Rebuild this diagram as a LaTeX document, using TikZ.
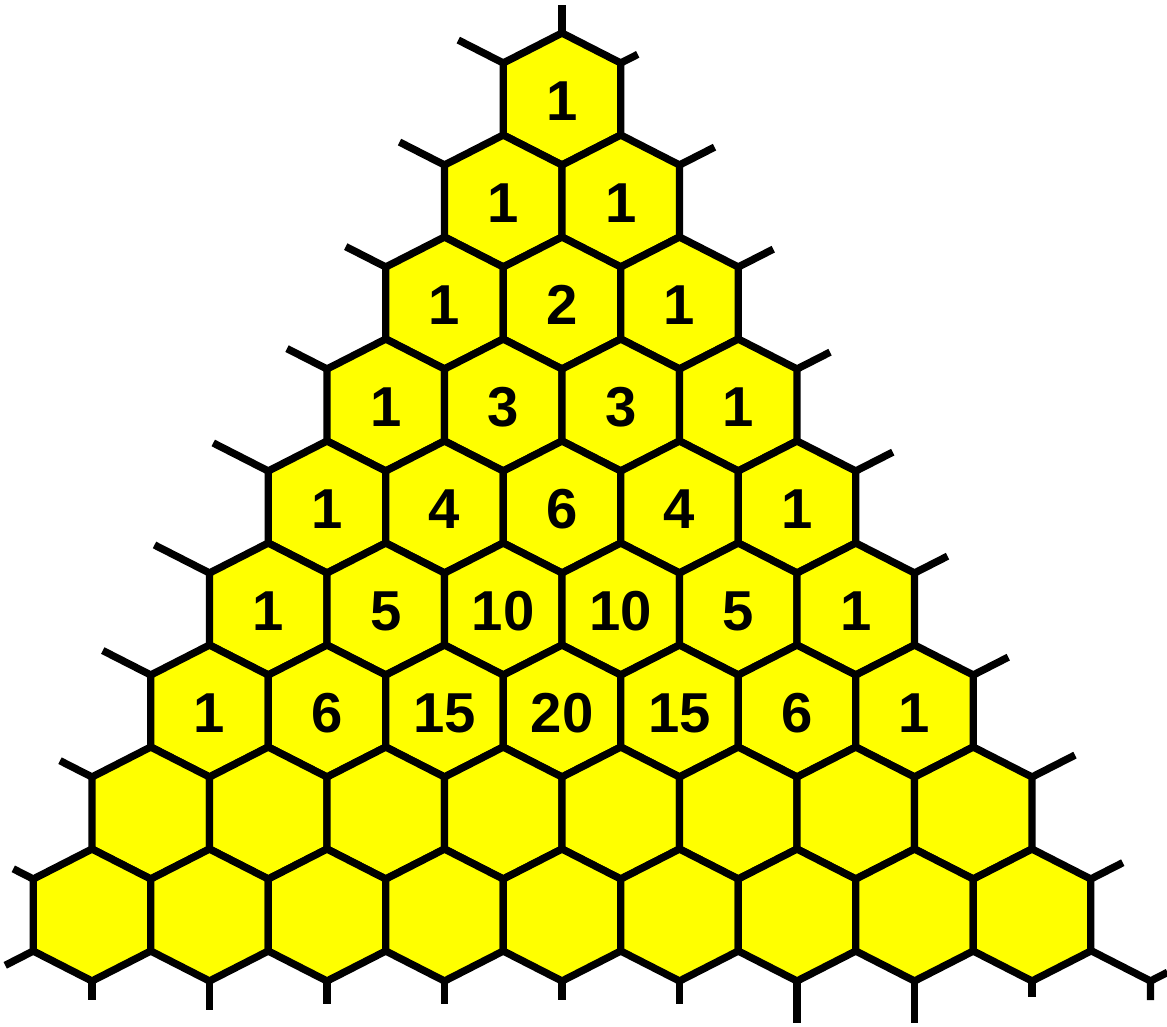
\documentclass[tikz,border=0pt]{standalone}
\usepackage{fontspec}
\setmainfont{Liberation Sans}
\definecolor{hexyellow}{RGB}{255,255,0}
\usetikzlibrary{calc}

% hexagon cell, centre given in pixel units
\newcommand{\hexcell}[2]{%
  \draw[cell] (#1,#2-66) -- (#1+58.75,#2-36) -- (#1+58.75,#2+36) -- (#1,#2+66)
    -- (#1-58.75,#2+36) -- (#1-58.75,#2-36) -- cycle;}

\begin{document}
\begin{tikzpicture}[x=0.01cm, y=-0.01cm,
    cell/.style={draw=black, fill=hexyellow, line width=2.1pt, line join=miter},
    stub/.style={draw=black, line width=2.1pt},
    num/.style={font=\fontsize{16}{16}\selectfont\bfseries, inner sep=0pt}]
  \useasboundingbox (0,0) rectangle (1167,1026);

  % honeycomb, 9 rows
  \foreach \r in {0,...,8} {
    \foreach \k in {0,...,\r} {
      \pgfmathsetmacro\cx{562+(\k-\r/2)*117.5}
      \pgfmathsetmacro\cy{99+102*\r}
      \hexcell{\cx}{\cy}
    }
  }

  % binomial numbers, rows 0..6
  \foreach \r in {0,...,6} {
    \foreach \k in {0,...,\r} {
      \pgfmathsetmacro\cx{562+(\k-\r/2)*117.5}
      \pgfmathsetmacro\cy{101+102*\r}
      \pgfmathtruncatemacro\val{round(factorial(\r)/(factorial(\k)*factorial(\r-\k)))}
      \node[num] (n-\r-\k) at (\cx,\cy) {\val};
    }
  }

  % top stub
  \draw[stub] (562,33) -- (562,5);

  % stubs on the left side
  \foreach \r/\len in {0/45,1/45,2/40,3/40,4/55,5/55,6/48,7/32,8/20} {
    \pgfmathsetmacro\vx{562-\r*58.75-58.75}
    \pgfmathsetmacro\vy{99+102*\r-36}
    \draw[stub] (\vx,\vy) -- ++(-\len,-0.51*\len);
  }

  % stubs on the right side
  \foreach \r/\len in {0/17,1/35,2/35,3/33,4/37,5/33,6/35,7/43,8/32} {
    \pgfmathsetmacro\vx{562+\r*58.75+58.75}
    \pgfmathsetmacro\vy{99+102*\r-36}
    \draw[stub] (\vx,\vy) -- ++(\len,-0.51*\len);
  }

  % stubs along the bottom
  \foreach \k/\len in {0/19,1/29,2/23,3/23,4/19,5/23,6/42,7/42,8/16} {
    \pgfmathsetmacro\vx{92+\k*117.5}
    \draw[stub] (\vx,981) -- ++(0,\len);
  }
  \draw[stub] (33.25,951) -- ++(-28,14.3);
  \coordinate (corner) at (1150.5,981);
  \draw[stub] (1091.75,951) -- (corner) -- ++(0,19);
  \draw[stub] (corner) -- ++(17,-8.7);
\end{tikzpicture}
\end{document}
